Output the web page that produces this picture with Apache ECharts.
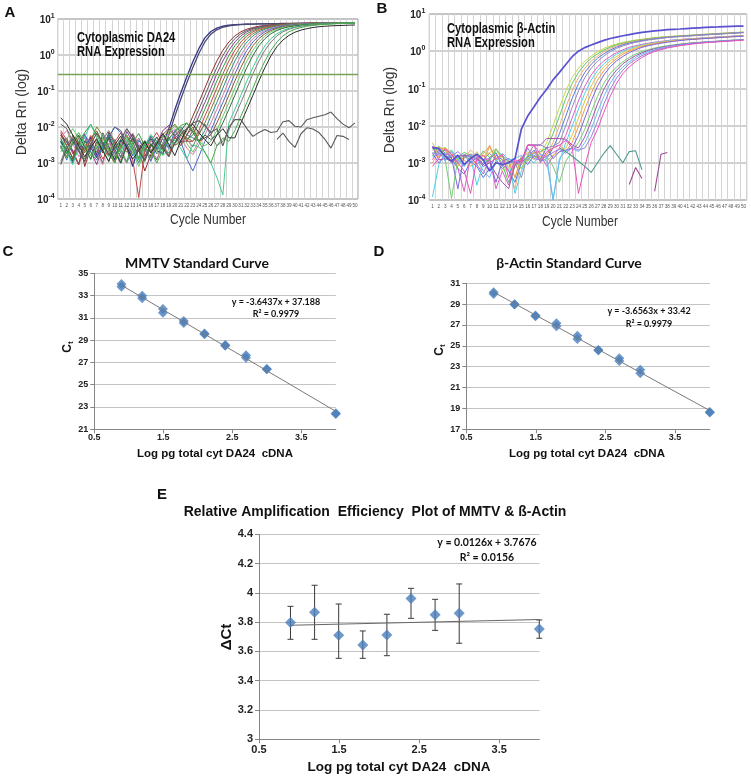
<!DOCTYPE html>
<html><head><meta charset="utf-8">
<script src="https://cdn.jsdelivr.net/npm/echarts@6/dist/echarts.min.js"></script>
<style>html,body{margin:0;padding:0;background:#fff}#c{width:751px;height:777px}</style>
</head><body><div id="c"></div>
<script>
// ---------- DATA ----------
const cycles = [1,2,3,4,5,6,7,8,9,10,11,12,13,14,15,16,17,18,19,20,21,22,23,24,25,26,27,28,29,30,31,32,33,34,35,36,37,38,39,40,41,42,43,44,45,46,47,48,49,50];
const thresholdA = [0.3];

// Panel A: Cytoplasmic DA24 amplification curves (Delta Rn per cycle)
const dA01 = [4e-3,2.1e-3,1.1e-3,3.5e-3,2.4e-3,5.2e-3,1.6e-3,6.8e-3,2.9e-3,1.2e-3,4.4e-3,2.6e-3,8e-4,3.1e-3,2.2e-3,4.8e-3,2.5e-3,3e-3,9e-3,0.03,0.09,0.25,0.65,1.5,3.0,4.5,5.6,6.3,6.7,7.0,7.1,7.2,7.25,7.3,7.35,7.4,7.4,7.45,7.45,7.5,7.5,7.5,7.55,7.55,7.55,7.6,7.6,7.6,7.6,7.65];
const dA02 = [6e-3,3.8e-3,2.2e-3,9e-4,4.1e-3,2.7e-3,1.4e-3,3.3e-3,5.9e-3,2e-3,1e-3,3.7e-3,6.2e-3,2.8e-3,1.5e-3,3.4e-3,2.2e-3,1.8e-3,6e-3,0.02,0.06,0.17,0.45,1.1,2.3,3.8,5.0,5.9,6.4,6.8,7.0,7.15,7.25,7.3,7.35,7.4,7.45,7.5,7.5,7.55,7.55,7.6,7.6,7.6,7.65,7.65,7.65,7.7,7.7,7.7];
const dA03 = [7e-3,3e-3,1.3e-3,5.5e-3,8e-4,2.6e-3,4.9e-3,1.9e-3,7.2e-3,3.6e-3,1.4e-3,2.9e-3,5.1e-3,2.3e-3,6e-4,1.7e-3,3.9e-3,2.4e-3,4.6e-3,3.1e-3,0.004,0.008,0.02,0.048,0.12,0.3,0.68,1.35,2.3,3.4,4.4,5.2,5.8,6.3,6.6,6.9,7.1,7.25,7.4,7.5,7.6,7.65,7.7,7.75,7.8,7.85,7.9,7.9,7.95,8.0];
const dA04 = [1.2e-2,9e-3,4e-3,2.2e-3,1.1e-3,3.2e-3,2.5e-3,1e-3,5.3e-3,1e-2,8e-3,3.4e-3,1.6e-3,2.7e-3,4.2e-3,2e-3,1.2e-3,3.5e-3,2.8e-3,5e-3,3.6e-3,0.006,0.013,0.031,0.076,0.19,0.45,0.97,1.8,2.85,3.9,4.8,5.5,6.05,6.45,6.75,7.0,7.2,7.3,7.45,7.55,7.6,7.65,7.7,7.75,7.8,7.8,7.85,7.9,7.9];
const dA05 = [2.5e-3,5e-3,1.8e-3,3.3e-3,6.5e-3,2.1e-3,9e-4,3e-3,4.6e-3,1.5e-3,2.4e-3,7.5e-3,3.9e-3,1.3e-3,2.6e-3,5.6e-3,3.2e-3,8e-3,1.1e-2,6e-3,4e-3,0.004,0.008,0.02,0.048,0.12,0.3,0.68,1.35,2.3,3.4,4.4,5.2,5.8,6.3,6.6,6.9,7.1,7.25,7.4,7.5,7.6,7.65,7.7,7.75,7.8,7.85,7.9,7.95,8.05];
const dA06 = [5e-3,2e-3,1.2e-3,4e-3,7e-3,1.2e-2,6e-3,3e-3,1.5e-3,4.5e-3,2.3e-3,1.1e-3,3.8e-3,6.6e-3,2.9e-3,1.4e-3,4.2e-3,2.6e-3,1.9e-3,3.5e-3,6e-3,4.5e-3,0.006,0.013,0.031,0.076,0.19,0.45,0.97,1.8,2.85,3.9,4.8,5.5,6.05,6.45,6.75,7.0,7.2,7.3,7.45,7.55,7.6,7.65,7.7,7.75,7.8,7.8,7.85,7.9];
const dA07 = [8e-3,4.4e-3,2e-3,9e-4,2.5e-3,5.8e-3,3e-3,1.3e-3,2.2e-3,3.9e-3,6.9e-3,2.7e-3,1.2e-3,1.1e-4,2.3e-3,4e-3,7e-3,3.4e-3,1.6e-3,5.5e-3,8.5e-3,4e-3,0.004,0.008,0.02,0.048,0.12,0.3,0.68,1.35,2.3,3.4,4.4,5.2,5.8,6.3,6.6,6.9,7.1,7.25,7.4,7.5,7.6,7.65,7.7,7.75,7.8,7.85,7.9,7.95];
const dA08 = [3e-3,1.5e-3,6e-3,3.6e-3,1.9e-3,4.3e-3,1e-2,5.7e-3,2.4e-3,1.1e-3,3.2e-3,2e-3,4.9e-3,2.6e-3,1.3e-3,3.1e-3,2.2e-3,5.2e-3,8e-3,1.2e-2,7e-3,5e-3,4e-3,0.006,0.013,0.031,0.076,0.19,0.45,0.97,1.8,2.85,3.9,4.8,5.5,6.05,6.45,6.75,7.0,7.2,7.3,7.45,7.55,7.6,7.65,7.7,7.75,7.8,7.85,7.9];
const dA09 = [4.5e-3,2.5e-3,1e-3,3.5e-3,5e-3,2e-3,1.2e-3,2.8e-3,6.4e-3,3e-3,1.5e-3,4.1e-3,2.3e-3,1e-3,2.9e-3,5.4e-3,3.3e-3,1.7e-3,4.8e-3,7.5e-3,1e-2,6e-3,5e-3,0.004,0.008,0.02,0.048,0.12,0.3,0.68,1.35,2.3,3.4,4.4,5.2,5.8,6.3,6.6,6.9,7.1,7.25,7.4,7.5,7.6,7.65,7.7,7.75,7.8,7.85,7.9];
const dA10 = [5e-3,8e-3,3.5e-3,1.5e-3,2.4e-3,4.6e-3,2e-3,9e-4,3.6e-3,2.1e-3,1.2e-3,4e-3,6.8e-3,3.3e-3,1.4e-3,2.5e-3,1.3e-3,3e-3,6e-3,9e-3,5e-3,2.6e-3,1.7e-3,3.2e-3,0.006,0.013,0.031,0.076,0.19,0.45,0.97,1.8,2.85,3.9,4.8,5.5,6.05,6.45,6.75,7.0,7.2,7.3,7.45,7.55,7.6,7.65,7.7,7.75,7.8,7.85];
const dA11 = [3e-3,1.2e-3,4e-3,2.2e-3,6e-3,3.4e-3,1.5e-3,2.6e-3,5.2e-3,1e-2,7e-3,3e-3,1.6e-3,4.3e-3,2.4e-3,1.1e-3,2.8e-3,4.7e-3,2.5e-3,8e-3,4e-3,1.3e-3,6e-4,1.5e-3,0.004,0.008,0.02,0.048,0.12,0.3,0.68,1.35,2.3,3.4,4.4,5.2,5.8,6.3,6.6,6.9,7.1,7.25,7.4,7.5,7.6,7.65,7.7,7.75,7.8,7.85];
const dA12 = [6e-3,3e-3,1.4e-3,3.8e-3,2.1e-3,4.4e-3,7.8e-3,3.5e-3,1.8e-3,1e-3,3.1e-3,5.5e-3,2.7e-3,1.2e-3,3.7e-3,2e-3,4.1e-3,6.2e-3,9e-3,5.5e-3,3e-3,6e-3,1e-2,4e-3,5e-3,0.006,0.013,0.031,0.076,0.19,0.45,0.97,1.8,2.85,3.9,4.8,5.5,6.05,6.45,6.75,7.0,7.2,7.3,7.45,7.55,7.6,7.65,7.7,7.75,7.8];
const dA13 = [2e-3,4.5e-3,9e-3,5e-3,2.5e-3,1.2e-3,3e-3,6.5e-3,3.2e-3,1.5e-3,2.3e-3,4.2e-3,1.9e-3,8e-4,2.6e-3,4.4e-3,2.1e-3,3.6e-3,7e-3,1.1e-2,6e-3,3.5e-3,2e-3,4e-3,3e-3,0.004,0.008,0.02,0.048,0.12,0.3,0.68,1.35,2.3,3.4,4.4,5.2,5.8,6.3,6.6,6.9,7.1,7.25,7.4,7.5,7.6,7.65,7.7,7.75,7.8];
const dA14 = [4e-3,1.8e-3,3.3e-3,6e-3,2.8e-3,1.3e-3,3.9e-3,2.2e-3,5e-3,2.5e-3,1e-3,2.9e-3,4.6e-3,2.2e-3,1.1e-3,3.4e-3,1.8e-3,2.7e-3,5.1e-3,3.5e-3,8e-3,1.3e-2,7e-3,4e-3,6e-3,4.5e-3,0.006,0.013,0.031,0.076,0.19,0.45,0.97,1.8,2.85,3.9,4.8,5.5,6.05,6.45,6.75,7.0,7.2,7.3,7.45,7.55,7.6,7.65,7.7,7.75];
const dA15 = [3.5e-3,2e-3,9e-4,2.7e-3,5.3e-3,1.2e-2,5e-3,2.4e-3,1.1e-3,3.3e-3,2e-3,4.8e-3,2.6e-3,1.2e-3,3e-3,6.3e-3,3.8e-3,1.6e-3,2.3e-3,4.5e-3,2.5e-3,1.3e-3,3.2e-3,2.8e-3,2e-3,1e-3,4e-4,1.3e-4,0.013,0.031,0.076,0.19,0.45,0.97,1.8,2.85,3.9,4.8,5.5,6.05,6.45,6.75,7.0,7.2,7.3,7.45,7.55,7.6,7.65,7.7];
const dA16 = [1.1e-3,3e-3,5.5e-3,2.4e-3,1.3e-3,3.6e-3,2e-3,4.3e-3,8e-3,4e-3,1.9e-3,1e-3,2.5e-3,4.9e-3,2.3e-3,1.2e-3,3.3e-3,5.8e-3,2.9e-3,6e-3,9e-3,4.5e-3,2.8e-3,7e-3,1.2e-2,6e-3,3e-3,4e-3,0.008,0.02,0.048,0.12,0.3,0.68,1.35,2.3,3.4,4.4,5.2,5.8,6.3,6.6,6.9,7.1,7.25,7.4,7.5,7.6,7.65,7.7];
const dA17 = [2.8e-3,1.4e-3,3.9e-3,7e-3,3.5e-3,1.6e-3,2.6e-3,5e-3,2.2e-3,1e-3,3.4e-3,6.1e-3,2.9e-3,1.4e-3,3.8e-3,2.1e-3,1e-3,2.4e-3,4.6e-3,7.5e-3,1.1e-2,1.3e-2,8e-3,4e-3,2e-3,1e-3,3e-3,5e-3,4e-3,0.008,0.02,0.048,0.12,0.3,0.68,1.35,2.3,3.4,4.4,5.2,5.8,6.3,6.6,6.9,7.1,7.25,7.4,7.5,7.6,7.65];
const dA18 = [1.8e-2,1.2e-2,6e-3,3e-3,1.5e-3,2.8e-3,4.5e-3,2.2e-3,1.1e-3,3.2e-3,5.6e-3,2.7e-3,1.3e-3,2.2e-3,4e-3,1.9e-3,3.4e-3,6.6e-3,3.3e-3,1.6e-3,4.2e-3,9e-3,1.2e-2,7e-3,4.5e-3,3e-3,6e-3,9e-3,5e-3,5e-3,0.013,0.031,0.076,0.19,0.45,0.95,1.7,2.6,3.5,4.3,4.9,5.4,5.8,6.1,6.3,6.45,6.55,6.65,6.75,6.8];
const ntcA1 = [9e-4,2.5e-3,4.8e-3,2.1e-3,1.1e-3,3.3e-3,6.8e-3,3.6e-3,1.7e-3,2.5e-3,4.5e-3,9e-3,5e-3,2.3e-3,1.2e-3,2.9e-3,5.3e-3,2.6e-3,1.5e-3,3.6e-3,6.2e-3,9e-3,1.3e-2,1.5e-2,1.1e-2,7e-3,9e-3,3e-3,1e-2,0.016,0.016,0.009,0.0055,0.007,0.0085,0.007,0.0075,0.014,0.015,0.0105,0.01,0.016,0.018,0.02,0.022,0.026,0.017,0.012,0.0095,0.013];
const ntcA2 = [null,null,null,null,null,null,null,null,null,null,null,null,null,null,null,null,null,null,null,null,null,null,null,null,null,null,null,null,null,null,null,null,null,null,null,null,0.0045,0.0068,0.004,0.0027,0.0065,0.0095,0.0088,0.007,0.0045,0.0026,0.0058,0.0055,0.0045,null];

// Panel B: Cytoplasmic beta-actin amplification curves
const dB01 = [2.6e-3,2.4e-3,1.5e-3,1.1e-3,1.6e-3,9e-4,1.3e-3,1.7e-3,1.2e-3,6e-4,1e-3,9e-4,1e-3,1.3e-3,8e-3,0.018,0.032,0.058,0.095,0.17,0.27,0.44,0.71,1.0,1.25,1.47,1.7,1.95,2.2,2.4,2.6,2.8,3.0,3.2,3.35,3.5,3.65,3.78,3.88,3.95,4.05,4.15,4.25,4.35,4.45,4.5,4.58,4.64,4.7,4.75];
const dB02 = [2.5e-3,2.2e-3,2.6e-3,1.3e-3,8e-4,1.5e-3,1.2e-3,2e-3,1.1e-3,2.7e-3,1.3e-3,6e-4,1.2e-3,4e-4,1.2e-3,2e-3,1.4e-3,1.8e-3,0.0035,0.01,0.031,0.086,0.196,0.35,0.54,0.74,0.97,1.19,1.39,1.57,1.73,1.86,2.0,2.1,2.21,2.32,2.4,2.47,2.54,2.6,2.67,2.74,2.81,2.87,2.94,3.01,3.08,3.15,3.21,3.28];
const dB03 = [1.5e-3,2.8e-3,1.8e-3,1e-3,1.4e-3,1.9e-3,1.6e-3,1.1e-3,2.1e-3,1.4e-3,1.9e-3,9e-4,3e-4,8e-4,1.4e-3,1.1e-3,1.9e-3,2e-3,0.0025,0.006,0.018,0.054,0.135,0.27,0.445,0.65,0.85,1.08,1.28,1.49,1.65,1.8,1.93,2.05,2.16,2.27,2.36,2.43,2.5,2.57,2.63,2.7,2.77,2.84,2.9,2.97,3.04,3.1,3.17,3.24];
const dB04 = [1e-3,2e-3,2.5e-3,1.6e-3,9e-4,1.3e-3,2.2e-3,1.5e-3,9e-4,3e-3,1.1e-3,1.6e-3,7e-4,2e-4,1.3e-3,1.8e-3,1.2e-3,2.3e-3,1.6e-3,0.0035,0.01,0.031,0.086,0.196,0.35,0.54,0.74,0.97,1.19,1.39,1.57,1.73,1.86,2.0,2.1,2.21,2.32,2.4,2.47,2.54,2.6,2.67,2.74,2.81,2.87,2.94,3.01,3.08,3.15,3.21];
const dB05 = [2.8e-3,1.7e-3,2.2e-3,1.3e-3,7e-4,5e-4,1.1e-3,8e-4,4e-4,7e-4,1.6e-3,1.2e-3,6e-4,3e-4,1e-3,1.4e-3,2.2e-3,1.1e-3,1.3e-3,0.0025,0.006,0.018,0.054,0.135,0.27,0.445,0.65,0.85,1.08,1.28,1.49,1.65,1.8,1.93,2.05,2.16,2.27,2.36,2.43,2.5,2.57,2.63,2.7,2.77,2.84,2.9,2.97,3.04,3.1,3.17];
const dB06 = [2.5e-3,1.9e-3,1.2e-3,1.6e-3,1e-3,1.7e-3,1.4e-3,9e-4,1.2e-3,1.8e-3,1.2e-3,7e-4,1e-3,1e-3,4e-4,1.6e-3,3e-3,3e-3,2.5e-3,2.8e-3,0.0035,0.01,0.031,0.086,0.196,0.35,0.54,0.74,0.97,1.19,1.39,1.57,1.73,1.86,2.0,2.1,2.21,2.32,2.4,2.47,2.54,2.6,2.67,2.74,2.81,2.87,2.94,3.01,3.08,3.15];
const dB07 = [1.2e-3,2.3e-3,1.6e-3,2e-3,7e-4,1.7e-4,1.5e-3,9e-4,5e-4,1.4e-3,2e-4,6e-4,2.5e-4,1.1e-3,9e-4,3e-3,3e-3,1.7e-3,8e-4,1.5e-3,0.0025,0.0055,0.016,0.046,0.115,0.23,0.38,0.55,0.72,0.92,1.09,1.27,1.4,1.53,1.64,1.75,1.84,1.93,2.01,2.07,2.13,2.19,2.24,2.3,2.36,2.42,2.47,2.53,2.59,2.65];
const dB08 = [1.2e-4,9e-4,1.8e-3,2.2e-3,1.3e-3,8e-4,1.4e-3,2.5e-4,1e-3,1.2e-3,2.2e-3,1.6e-3,1.1e-3,1.5e-4,6e-4,1.3e-3,1e-3,1.7e-3,1.5e-3,1e-4,1.1e-3,0.0035,0.0095,0.028,0.074,0.167,0.3,0.46,0.63,0.83,1.01,1.18,1.33,1.47,1.59,1.7,1.79,1.89,1.98,2.05,2.1,2.16,2.22,2.28,2.33,2.39,2.45,2.51,2.56,2.62];
const dB09 = [3.5e-3,1.4e-3,2.5e-3,1.9e-3,1.1e-3,1.4e-3,1.7e-3,1.2e-3,1.5e-3,1.9e-3,2.3e-3,1.2e-3,8e-4,1e-3,7e-4,1.3e-3,1.9e-3,1.5e-3,1.1e-3,1.6e-3,1.9e-3,0.0025,0.0055,0.016,0.046,0.115,0.23,0.38,0.55,0.72,0.92,1.09,1.27,1.4,1.53,1.64,1.75,1.84,1.93,2.01,2.07,2.13,2.19,2.24,2.3,2.36,2.42,2.47,2.53,2.59];
const dB10 = [2.6e-3,2.6e-3,2.3e-3,1.1e-3,1.6e-3,1.2e-3,8e-4,1.2e-3,1.8e-3,2.8e-3,1.3e-3,1.5e-3,1.1e-3,4e-4,1.5e-3,1.2e-3,2e-3,1.3e-3,1.7e-3,2.5e-3,3e-3,2e-3,0.0035,0.0095,0.028,0.074,0.167,0.3,0.46,0.63,0.83,1.01,1.18,1.33,1.47,1.59,1.7,1.79,1.89,1.98,2.05,2.1,2.16,2.22,2.28,2.33,2.39,2.45,2.51,2.56];
const dB11 = [1.8e-3,1e-3,1.5e-3,1.4e-3,2e-4,1.6e-3,1e-3,1.4e-3,9e-4,1.2e-3,3e-4,1.1e-3,1.3e-3,1e-3,1.3e-3,9e-4,1.6e-3,1.2e-3,2.6e-3,1.3e-3,2e-3,2.2e-3,0.0025,0.0055,0.016,0.046,0.115,0.23,0.38,0.55,0.72,0.92,1.09,1.27,1.4,1.53,1.64,1.75,1.84,1.93,2.01,2.07,2.13,2.19,2.24,2.3,2.36,2.42,2.47,2.53];
const dB12 = [2.2e-3,2.5e-3,1.2e-3,1.1e-4,1.3e-3,1.5e-3,1.4e-3,1.7e-3,1.2e-3,1.1e-3,2.4e-3,1.4e-3,1e-3,1.1e-3,7e-4,1.6e-3,1.5e-3,1.2e-3,1.5e-3,8e-4,3e-4,1.1e-3,2e-3,0.0035,0.008,0.023,0.061,0.138,0.25,0.38,0.52,0.68,0.84,0.98,1.1,1.22,1.31,1.41,1.48,1.56,1.63,1.69,1.74,1.79,1.83,1.88,1.93,1.98,2.02,2.07];
const dB13 = [2.7e-3,1.2e-3,1.3e-3,1.1e-3,1.5e-3,1.6e-3,1.5e-3,1.3e-3,8e-4,1e-3,5e-4,3e-4,2e-4,9e-4,1.1e-3,3e-3,3e-3,3e-3,4.5e-3,4.5e-3,4.5e-3,4.3e-3,3e-3,0.0025,0.005,0.013,0.038,0.095,0.19,0.31,0.46,0.6,0.76,0.9,1.05,1.16,1.26,1.36,1.44,1.52,1.6,1.66,1.71,1.76,1.8,1.85,1.9,1.95,2.0,2.04];
const dB14 = [1.4e-3,2.1e-3,1.1e-3,2e-3,1.2e-3,8e-4,1.6e-3,1.2e-3,6e-4,4e-4,1.1e-3,1.8e-3,1.2e-3,1.3e-3,1.6e-3,1.2e-3,1.8e-3,1.4e-3,1.1e-3,1e-4,1.3e-3,2.1e-3,2.4e-3,2e-3,0.0035,0.008,0.023,0.061,0.138,0.25,0.38,0.52,0.68,0.84,0.98,1.1,1.22,1.31,1.41,1.48,1.56,1.63,1.69,1.74,1.79,1.83,1.88,1.93,1.98,2.02];
const dB15 = [1.9e-3,1.6e-3,1.8e-3,1.5e-3,2e-3,1.4e-3,1.7e-3,1.5e-3,1.2e-3,1.3e-3,1.8e-3,8e-4,1.1e-3,1e-3,1.1e-3,2.5e-3,1.3e-3,1.2e-3,1.5e-3,1.9e-3,2.3e-3,1.8e-3,2.6e-3,2.2e-3,0.0025,0.005,0.013,0.038,0.095,0.19,0.31,0.46,0.6,0.76,0.9,1.05,1.16,1.26,1.36,1.44,1.52,1.6,1.66,1.71,1.76,1.8,1.85,1.9,1.95,2.0];
const dB16 = [8e-4,1.3e-3,2.4e-3,1.7e-3,1e-3,6e-4,1.5e-4,1.3e-3,1.6e-3,1e-3,1.3e-3,1.7e-3,4e-4,1.2e-3,1.1e-3,3e-3,3e-3,1e-3,2e-3,2.5e-3,3e-3,4e-3,2.6e-3,1.5e-4,8e-4,0.0035,0.008,0.023,0.061,0.138,0.25,0.38,0.52,0.68,0.84,0.98,1.1,1.22,1.31,1.41,1.48,1.56,1.63,1.69,1.74,1.79,1.83,1.88,1.93,1.98];
const ntcB1 = [null,null,null,null,null,null,null,null,null,null,null,null,null,null,null,null,null,null,null,null,2.5e-3,2e-3,1.5e-3,1.1e-3,8e-4,5.5e-4,1e-3,1.8e-3,2.9e-3,1.7e-3,1e-3,2e-3,2.1e-3,6.5e-4,null,null,null,null,null,null,null,null,null,null,null,null,null,null,null,null];
const ntcB2 = [null,null,null,null,null,null,null,null,null,null,null,null,null,null,null,null,null,null,null,null,null,null,null,null,null,null,null,null,null,null,null,2.6e-4,7.5e-4,3.8e-4,null,1.7e-4,1.7e-3,1.9e-3,null,null,null,null,null,null,null,null,null,null,null,null];

// Panels C, D, E: standard curves
const xTicks = [0.5, 1.5, 2.5, 3.5];
const logPg = [0.893,0.893,1.194,1.194,1.495,1.495,1.796,1.796,2.097,2.097,2.398,2.398,2.699,2.699,3.0,3.0,4.0,4.0];
const ctMMTV = [34.05,33.8,32.99,32.75,31.8,31.45,30.72,30.55,29.6,29.52,28.56,28.5,27.65,27.42,26.42,26.38,22.45,22.38];
const ctActin = [30.14,29.98,29.0,28.97,27.92,27.85,27.16,26.88,25.98,25.65,24.6,24.58,23.82,23.56,22.7,22.38,18.65,18.6];
const yTicksC = [21,23,25,27,29,31,33,35];
const yTicksD = [17,19,21,23,25,27,29,31];
const fitC = [-3.6437, 37.188];
const fitD = [-3.6563, 33.42];
const r2C = [0.9979];
const r2D = [0.9979];

const logPgE = [0.893,1.194,1.495,1.796,2.097,2.398,2.699,3.0,4.0];
const deltaCt = [3.797,3.867,3.71,3.644,3.713,3.961,3.851,3.86,3.754];
const errLow = [3.683,3.683,3.553,3.553,3.571,3.826,3.744,3.656,3.69];
const errHigh = [3.908,4.052,3.924,3.74,3.854,4.031,3.956,4.061,3.815];
const yTicksE = [3,3.2,3.4,3.6,3.8,4,4.2,4.4];
const fitE = [0.0126, 3.7676];
const r2E = [0.0156];

// ---------- STYLE ----------
const ARIAL = "'Liberation Sans',Arial,sans-serif";
const CAL = "Lato,'Liberation Sans',sans-serif";
const curvesA = [dA01,dA02,dA03,dA04,dA05,dA06,dA07,dA08,dA09,dA10,dA11,dA12,dA13,dA14,dA15,dA16,dA17,dA18];
const colorsA = ['#34348a','#4b4b70','#8e2c2c','#5e5e5e','#8a3c8c','#3a9a3a','#c84444','#7e7e2c','#2c8c8c','#d47aa6','#4a68cc','#8a5a2c','#6ac86a','#2c6c3c','#3ecf8c','#7a7a7a','#44b044','#2a2a2a'];
const curvesB = [dB01,dB02,dB03,dB04,dB05,dB06,dB07,dB08,dB09,dB10,dB11,dB12,dB13,dB14,dB15,dB16];
const colorsB = ['#5a52d2','#c4da50','#5cc85c','#f2aa74','#5878e0','#9488b8','#d660c8','#50d0e8','#dcc452','#f29a52','#7868d8','#74cc74','#a452aa','#6cbaf0','#9a7ae0','#ea52ba'];

function logLabel(v){ const e = Math.round(Math.log10(v)); return '{b|10}{s|' + e + '}'; }
const richLog = {
  b:{fontSize:10, fontWeight:'bold', fontFamily:ARIAL, color:'#222', lineHeight:13, verticalAlign:'bottom'},
  s:{fontSize:7, fontWeight:'bold', fontFamily:ARIAL, color:'#222', lineHeight:13, verticalAlign:'top'}
};
function ampX(gi){ return {type:'category', gridIndex:gi, data:cycles, boundaryGap:true,
  axisLine:{show:false}, axisTick:{show:false},
  axisLabel:{interval:0, fontSize:4.6, fontFamily:ARIAL, color:'#555', margin:4},
  splitLine:{show:true, interval:0, lineStyle:{color:'#d4d4d4', width:1}}}; }
function ampY(gi, m){ return {type:'log', logBase:10, gridIndex:gi, min:1e-4, max:10,
  axisLine:{show:false}, axisTick:{show:false},
  axisLabel:{formatter:logLabel, rich:richLog, margin:m},
  splitLine:{show:true, lineStyle:{color:'#c2c2c2', width:1.5}}}; }
function xlsX(gi, fs, margin){ return {type:'value', gridIndex:gi, min:0.5, max:4,
  axisLine:{show:true, onZero:false, lineStyle:{color:'#868686'}},
  axisTick:{show:true, customValues:xTicks, length:4, lineStyle:{color:'#868686'}},
  axisLabel:{customValues:xTicks, fontSize:fs, fontWeight:'bold', fontFamily:ARIAL, color:'#222', margin:margin},
  splitLine:{show:false}}; }
function xlsY(gi, min, max, ticks, fs){ return {type:'value', gridIndex:gi, min:min, max:max,
  axisLine:{show:true, onZero:false, lineStyle:{color:'#868686'}},
  axisTick:{show:true, customValues:ticks, length:4, lineStyle:{color:'#868686'}},
  axisLabel:{customValues:ticks, fontSize:fs, fontWeight:'bold', fontFamily:ARIAL, color:'#222', margin:6},
  splitLine:{show:true, lineStyle:{color:'#c4c4c4', width:1}}}; }
function trend(xs, f){ const lo = Math.min.apply(null, xs), hi = Math.max.apply(null, xs); return [[lo, f[0]*lo+f[1]],[hi, f[0]*hi+f[1]]]; }

const series = [];
curvesA.forEach(function(d,i){ series.push({type:'line', xAxisIndex:0, yAxisIndex:0, data:d, symbol:'none', silent:true,
  lineStyle:{width:i<2?1.3:1, color:colorsA[i]}, itemStyle:{color:colorsA[i]}}); });
[ntcA1, ntcA2].forEach(function(d){ series.push({type:'line', xAxisIndex:0, yAxisIndex:0, data:d, symbol:'none', silent:true,
  lineStyle:{width:1.1, color:'#5a5a5a'}, itemStyle:{color:'#5a5a5a'}}); });
series.push({type:'line', xAxisIndex:0, yAxisIndex:0, data:[], silent:true,
  markLine:{silent:true, symbol:'none', label:{show:false}, lineStyle:{color:'#76a55a', width:1.3, type:'solid'}, data:[{yAxis:thresholdA[0]}]}});
curvesB.forEach(function(d,i){ series.push({type:'line', xAxisIndex:1, yAxisIndex:1, data:d, symbol:'none', silent:true, z: i===0?3:2,
  lineStyle:{width:i===0?1.7:1, color:colorsB[i]}, itemStyle:{color:colorsB[i]}}); });
series.push({type:'line', xAxisIndex:1, yAxisIndex:1, data:ntcB1, symbol:'none', silent:true, lineStyle:{width:1.1, color:'#4e9a92'}});
series.push({type:'line', xAxisIndex:1, yAxisIndex:1, data:ntcB2, symbol:'none', silent:true, lineStyle:{width:1.1, color:'#9a4a92'}});

const BLUE = '#4a7ebb';
series.push({type:'scatter', xAxisIndex:2, yAxisIndex:2, data:logPg.map(function(x,i){return [x, ctMMTV[i]];}), symbol:'diamond', symbolSize:10, itemStyle:{color:BLUE}, silent:true});
series.push({type:'line', xAxisIndex:2, yAxisIndex:2, data:trend(logPg, fitC), symbol:'none', lineStyle:{color:'#7a7a7a', width:1}, z:4, silent:true});
series.push({type:'scatter', xAxisIndex:3, yAxisIndex:3, data:logPg.map(function(x,i){return [x, ctActin[i]];}), symbol:'diamond', symbolSize:10, itemStyle:{color:BLUE}, silent:true});
series.push({type:'line', xAxisIndex:3, yAxisIndex:3, data:trend(logPg, fitD), symbol:'none', lineStyle:{color:'#7a7a7a', width:1}, z:4, silent:true});
series.push({type:'custom', xAxisIndex:4, yAxisIndex:4, data:logPgE.map(function(x,i){return [x, errLow[i], errHigh[i]];}), encode:{x:0, y:[1,2]}, silent:true, z:1,
  renderItem:function(params, api){
    const x = api.value(0); const a = api.coord([x, api.value(1)]); const b = api.coord([x, api.value(2)]); const w = 3;
    const st = {stroke:'#3a3a3a', lineWidth:1};
    return {type:'group', children:[
      {type:'line', shape:{x1:a[0], y1:a[1], x2:b[0], y2:b[1]}, style:st},
      {type:'line', shape:{x1:a[0]-w, y1:a[1], x2:a[0]+w, y2:a[1]}, style:st},
      {type:'line', shape:{x1:b[0]-w, y1:b[1], x2:b[0]+w, y2:b[1]}, style:st}]};
  }});
series.push({type:'line', xAxisIndex:4, yAxisIndex:4, data:trend(logPgE, fitE), symbol:'none', lineStyle:{color:'#666', width:1}, z:2, silent:true});
series.push({type:'scatter', xAxisIndex:4, yAxisIndex:4, data:logPgE.map(function(x,i){return [x, deltaCt[i]];}), symbol:'diamond', symbolSize:11, itemStyle:{color:BLUE}, z:3, silent:true});

function T(x, y, text, font, extra, props){
  const o = {type:'text', x:x, y:y, silent:true, z:100,
    style:Object.assign({text:text, font:font, fill:'#111', stroke:'none', lineWidth:0, align:'center', verticalAlign:'middle', textAlign:'center', textVerticalAlign:'middle'}, extra||{})};
  return Object.assign(o, props||{});
}
function eqText(f){ return 'y = ' + f[0] + 'x + ' + f[1]; }
const ctRich = {rich:{c:{fontSize:12, fontWeight:'bold', fontFamily:ARIAL, fill:'#111', lineHeight:14, verticalAlign:'middle'}, t:{fontSize:8, fontWeight:'bold', fontFamily:ARIAL, fill:'#111', lineHeight:14, verticalAlign:'bottom'}}};
const LEFT = {align:'left', textAlign:'left'};
const SQ = {scaleX:0.8};

const graphics = [
  T(10, 13, 'A', 'bold 15px ' + ARIAL),
  T(382, 9, 'B', 'bold 15px ' + ARIAL),
  T(8, 252, 'C', 'bold 15px ' + ARIAL),
  T(379, 252, 'D', 'bold 15px ' + ARIAL),
  T(162, 495, 'E', 'bold 15px ' + ARIAL),
  T(77, 38, 'Cytoplasmic DA24', 'bold 14px ' + ARIAL, LEFT, SQ),
  T(77, 52, 'RNA Expression', 'bold 14px ' + ARIAL, LEFT, SQ),
  T(447, 29, 'Cytoplasmic \u03b2-Actin', 'bold 14px ' + ARIAL, LEFT, SQ),
  T(447, 43, 'RNA Expression', 'bold 14px ' + ARIAL, LEFT, SQ),
  T(22, 112, 'Delta Rn (log)', '14px ' + ARIAL, {fill:'#333'}, {rotation:Math.PI/2}),
  T(390, 110, 'Delta Rn (log)', '14px ' + ARIAL, {fill:'#333'}, {rotation:Math.PI/2}),
  T(208, 220, 'Cycle Number', '15px ' + ARIAL, {fill:'#333'}, SQ),
  T(580, 222, 'Cycle Number', '15px ' + ARIAL, {fill:'#333'}, SQ),
  T(197, 263, 'MMTV Standard Curve', 'bold 14px ' + CAL),
  T(569, 263, '\u03b2-Actin Standard Curve', 'bold 14px ' + CAL),
  T(276, 302, eqText(fitC), 'bold 9px ' + CAL),
  T(276, 314, 'R\u00b2 = ' + r2C[0], 'bold 9px ' + CAL),
  T(649, 311, eqText(fitD), 'bold 9px ' + CAL),
  T(649, 324, 'R\u00b2 = ' + r2D[0], 'bold 9px ' + CAL),
  T(487, 543, eqText(fitE), 'bold 10.5px ' + CAL),
  T(487, 558, 'R\u00b2 = ' + r2E[0], 'bold 10.5px ' + CAL),
  T(68, 347, '{c|C}{t|t}', 'bold 12px ' + ARIAL, ctRich, {rotation:Math.PI/2}),
  T(440, 350, '{c|C}{t|t}', 'bold 12px ' + ARIAL, ctRich, {rotation:Math.PI/2}),
  T(215, 454, 'Log pg total cyt DA24  cDNA', 'bold 11.5px ' + ARIAL),
  T(587, 454, 'Log pg total cyt DA24  cDNA', 'bold 11.5px ' + ARIAL),
  T(375, 512, 'Relative Amplification  Efficiency  Plot of MMTV & \u00df-Actin', 'bold 14px ' + ARIAL),
  T(227, 637, '\u0394Ct', 'bold 15px ' + ARIAL, null, {rotation:Math.PI/2}),
  T(399, 767, 'Log pg total cyt DA24  cDNA', 'bold 13.5px ' + ARIAL)
];

const chart = echarts.init(document.getElementById('c'), null, {renderer:'canvas'});
chart.setOption({
  animation:false,
  backgroundColor:'#fff',
  grid:[
    {left:57.7, top:19, width:300.3, height:180, show:true, borderColor:'#9a9a9a', borderWidth:1, backgroundColor:'transparent'},
    {left:429.3, top:14, width:317.4, height:186, show:true, borderColor:'#9a9a9a', borderWidth:1, backgroundColor:'transparent'},
    {left:94.3, top:273.3, width:241.5, height:156},
    {left:466.3, top:283.3, width:243.5, height:146},
    {left:259, top:534.3, width:280.3, height:205}
  ],
  xAxis:[ampX(0), ampX(1), xlsX(2, 9, 4), xlsX(3, 9, 4), xlsX(4, 11, 5)],
  yAxis:[ampY(0, 3), ampY(1, 4), xlsY(2, 21, 35, yTicksC, 9), xlsY(3, 17, 31, yTicksD, 9), xlsY(4, 3, 4.4, yTicksE, 11)],
  series:series,
  graphic:graphics
});
</script>
</body></html>
